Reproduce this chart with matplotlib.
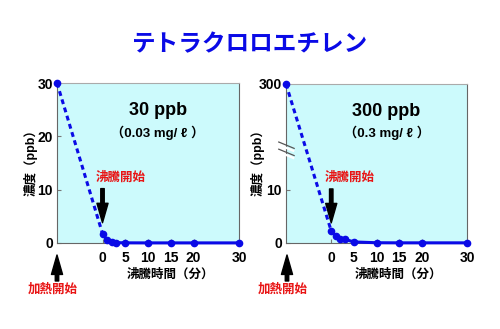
import numpy as np
import matplotlib.pyplot as plt
from matplotlib.patches import FancyArrowPatch

plt.rcParams['font.family'] = ['Liberation Sans', 'Noto Sans CJK JP', 'DejaVu Sans']
plt.rcParams['font.weight'] = 'bold'

# ── data ──────────────────────────────────────────
HEAT_START = -10                                   # heating start (before boiling)
time_min = [HEAT_START, 0, 1, 2, 3, 5, 10, 15, 20, 30]
conc_30 = [30, 1.76, 0.5, 0.15, 0.07, 0.03, 0.02, 0.02, 0.02, 0.02]
conc_300 = [300, 2.25, 1.3, 0.8, 0.7, 0.2, 0.05, 0.03, 0.03, 0.03]
x_ticks = [0, 5, 10, 15, 20, 30]
y_ticks_30 = [0, 10, 20, 30]
y_ticks_300 = [0, 10, 300]

BLUE = '#0a0ae6'
RED = '#e81414'
FACE = '#ccfafc'
ARROW = 'simple,head_width=0.8,head_length=1.4,tail_width=0.25'


def broken_y(v, brk=18.0, top=300.0, top_disp=30.0):
    """Linear below brk, compressed above (broken axis)."""
    v = np.asarray(v, dtype=float)
    return np.where(v <= brk, v, brk + (v - brk) * (top_disp - brk) / (top - brk))


def draw_panel(ax, y_disp, yticks, ytick_disp, big, small):
    ax.set_facecolor(FACE)
    ax.plot(time_min[:2], y_disp[:2], color=BLUE, lw=2.2, ls=(0, (1.6, 1.2)),
            clip_on=False, zorder=3)
    ax.plot(time_min[1:], y_disp[1:], color=BLUE, lw=2.2, clip_on=False, zorder=3)
    ax.plot(time_min, y_disp, 'o', color=BLUE, ms=4.5, clip_on=False, zorder=4)
    ax.set_xlim(HEAT_START, 30)
    ax.set_ylim(0, 30)
    ax.set_xticks(x_ticks)
    ax.set_yticks(ytick_disp)
    ax.set_yticklabels([str(t) for t in yticks])
    ax.tick_params(direction='in', length=3, color='#777777', labelsize=10, pad=3)
    ax.tick_params(axis='x', pad=6)
    for s in ax.spines.values():
        s.set_color('#666666')
        s.set_linewidth(0.8)
    ax.spines['top'].set_color('#aaaaaa')
    ax.text(0.555, 0.83, big, transform=ax.transAxes, ha='center', va='center',
            fontsize=13, weight='bold')
    ax.text(0.555, 0.69, small, transform=ax.transAxes, ha='center', va='center',
            fontsize=9.5, weight='bold')
    ax.annotate('', xy=(0, 3.8), xytext=(0, 10.2),
                arrowprops=dict(arrowstyle=ARROW, mutation_scale=10, color='black',
                                shrinkA=0, shrinkB=0))
    ax.text(-1.5, 11.2, '沸騰開始', color=RED, ha='left', va='bottom', fontsize=9,
            weight='bold')


fig = plt.figure(figsize=(5.0, 3.29), dpi=100)
fig.patch.set_facecolor('white')

ax1 = fig.add_axes([0.114, 0.2614, 0.364, 0.4863])
ax2 = fig.add_axes([0.572, 0.2614, 0.362, 0.4833])

draw_panel(ax1, np.array(conc_30, dtype=float), y_ticks_30, y_ticks_30,
           '30 ppb', '（0.03 mg/ ℓ ）')
draw_panel(ax2, broken_y(conc_300), y_ticks_300, broken_y(y_ticks_300),
           '300 ppb', '（0.3 mg/ ℓ ）')

# break marks on the right y axis
for dy in (0.0, -0.045):
    ax2.plot([-0.04, 0.045], [0.635 + dy, 0.595 + dy], transform=ax2.transAxes,
             color='#555555', lw=0.9, clip_on=False, zorder=5)
    ax2.plot([-0.035, 0.04], [0.6155 + dy, 0.58 + dy], transform=ax2.transAxes,
             color='white', lw=1.6, clip_on=False, zorder=4)

# titles and labels
fig.text(0.5, 1 - 45 / 329, 'テトラクロロエチレン', ha='center', va='center',
         color=BLUE, fontsize=17, weight='bold')
for xc in (31, 258):
    fig.text(xc / 500, 1 - 160 / 329, '濃度（ppb）', rotation=90, ha='center',
             va='center', fontsize=9, weight='bold')
for xc in (170, 398):
    fig.text(xc / 500, 1 - 275 / 329, '沸騰時間（分）', ha='center', va='center',
             fontsize=9, weight='bold')

# heating start arrows below the axes
for xa, xt in ((57, 53), (287, 283)):
    fig.patches.append(FancyArrowPatch(
        (xa / 500, 1 - 281 / 329), (xa / 500, 1 - 255 / 329),
        transform=fig.transFigure, arrowstyle=ARROW,
        mutation_scale=10, color='black', shrinkA=0, shrinkB=0))
    fig.text(xt / 500, 1 - 290 / 329, '加熱開始', color=RED, ha='center',
             va='center', fontsize=9, weight='bold')

fig.savefig('out.png', dpi=100)
